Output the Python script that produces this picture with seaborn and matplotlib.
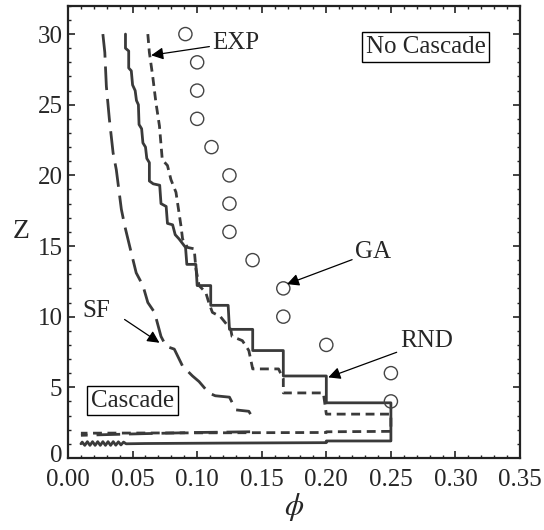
import numpy as np
import matplotlib
matplotlib.use("Agg")
import matplotlib.pyplot as plt
import matplotlib.transforms as mtransforms
import seaborn as sns

# GA points (open circles)
ga_phi = [0.0909, 0.1, 0.1, 0.1, 0.1111, 0.125, 0.125, 0.125, 0.1429, 0.1667, 0.1667, 0.2, 0.25, 0.25]
ga_z = [30, 28, 26, 24, 22, 20, 18, 16, 14, 12, 10, 8, 6, 4]

# RND (solid): no-cascade branch running into the cascade branch at the bottom
rnd_phi = [0.0445, 0.0445, 0.047, 0.047, 0.049, 0.050, 0.052, 0.053, 0.0545, 0.055, 0.057, 0.058,
           0.060, 0.061, 0.063, 0.063, 0.066, 0.071, 0.072, 0.076, 0.077, 0.081, 0.083, 0.086,
           0.091, 0.092, 0.099, 0.100, 0.1105, 0.1105, 0.124, 0.125, 0.143, 0.143, 0.1667, 0.1667,
           0.200, 0.200, 0.250, 0.250, 0.200, 0.200, 0.120, 0.060, 0.045,
           0.043, 0.041, 0.039, 0.037, 0.035, 0.033, 0.031, 0.029, 0.027, 0.025, 0.023, 0.021,
           0.019, 0.017, 0.015, 0.013, 0.011, 0.010]
rnd_z = [30.0, 29.0, 28.8, 27.6, 27.4, 26.4, 26.0, 25.3, 25.0, 23.6, 23.3, 22.3,
         22.0, 21.2, 20.9, 19.6, 19.4, 19.3, 18.0, 17.8, 16.6, 16.5, 15.8, 15.5,
         14.9, 13.7, 13.7, 12.2, 12.2, 10.8, 10.8, 9.1, 9.1, 7.6, 7.6, 5.8,
         5.8, 3.9, 3.9, 1.2, 1.2, 1.08, 1.05, 1.02, 1.0,
         1.12, 0.92, 1.14, 0.90, 1.15, 0.89, 1.15, 0.89, 1.15, 0.89, 1.15, 0.89,
         1.15, 0.89, 1.15, 0.89, 1.12, 1.0]

# EXP (short dash)
exp_phi = [0.0618, 0.063, 0.0656, 0.068, 0.0708, 0.073, 0.077, 0.0797, 0.0836, 0.0875, 0.0887,
           0.0925, 0.0977, 0.099, 0.1015, 0.1067, 0.109, 0.1118, 0.118, 0.126, 0.127, 0.135,
           0.140, 0.143, 0.163, 0.1667, 0.1667, 0.1977, 0.200, 0.250, 0.250, 0.200, 0.200, 0.010]
exp_z = [30.0, 28.7, 27.0, 25.2, 23.5, 21.1, 20.7, 19.7, 18.8, 16.4, 15.5,
         14.9, 14.8, 13.4, 12.2, 11.7, 11.0, 10.3, 10.0, 9.1, 8.6, 8.3,
         7.6, 6.3, 6.3, 5.6, 4.6, 4.6, 3.1, 3.1, 1.88, 1.85, 1.8, 1.75]

# SF (long dash), no-cascade and cascade branches
sf_phi = [0.027, 0.0285, 0.0297, 0.032, 0.0349, 0.0374, 0.0413, 0.044, 0.0477, 0.0528, 0.058,
          0.0618, 0.067, 0.072, 0.076, 0.0823, 0.0887, 0.0964, 0.1015, 0.109, 0.114, 0.125,
          0.130, 0.140, 0.1413]
sf_z = [30.0, 28.7, 26.3, 24.0, 21.6, 20.4, 17.6, 16.4, 15.0, 13.1, 12.2,
        11.0, 10.3, 8.6, 7.9, 7.7, 6.5, 5.8, 5.4, 4.6, 4.4, 4.3,
        3.4, 3.3, 3.1]
sf_casc_phi = [0.141, 0.10, 0.06, 0.03, 0.01]
sf_casc_z = [1.85, 1.8, 1.72, 1.65, 1.6]

sns.set_style("ticks")
plt.rcParams['font.family'] = ['Liberation Serif', 'DejaVu Serif']
plt.rcParams['mathtext.fontset'] = 'stix'

fig = plt.figure(figsize=(5.44, 5.30), dpi=100)
ax = fig.add_axes([0.125, 0.136, 0.831, 0.853])

line_c = '#3a3a3a'
lw = 2.0
sns.lineplot(x=rnd_phi, y=rnd_z, sort=False, estimator=None, ax=ax, color=line_c, lw=lw)
sns.lineplot(x=exp_phi, y=exp_z, sort=False, estimator=None, ax=ax, color=line_c, lw=lw,
             linestyle=(0, (3.2, 2.0)))
sns.lineplot(x=sf_phi, y=sf_z, sort=False, estimator=None, ax=ax, color=line_c, lw=lw,
             linestyle=(0, (8.5, 3.2)))
sns.lineplot(x=sf_casc_phi, y=sf_casc_z, sort=False, estimator=None, ax=ax, color=line_c, lw=lw,
             linestyle=(0, (8.5, 3.2)))
sns.scatterplot(x=ga_phi, y=ga_z, ax=ax, marker='o', s=90, facecolors='none',
                edgecolor='#444444', linewidth=1.0, zorder=3)

ax.set_xlim(0, 0.35)
ax.set_ylim(0, 32)
ax.set_xticks(np.arange(0, 0.351, 0.05))
ax.set_xticklabels([f"{v:.2f}" for v in np.arange(0, 0.351, 0.05)])
ax.set_yticks([0, 5, 10, 15, 20, 25, 30])
ax.set_xticks(np.arange(0, 0.351, 0.01), minor=True)
ax.set_yticks(np.arange(0, 32.1, 1), minor=True)
ax.tick_params(which='both', direction='in', top=True, right=True, labelsize=18, color='#222222')
ax.tick_params(which='major', length=5, width=1.2)
ax.tick_params(which='minor', length=2.5, width=1.0)
ax.tick_params(axis='x', which='major', pad=8)
ax.tick_params(axis='y', which='major', pad=4)
for s in ax.spines.values():
    s.set_linewidth(1.6)
    s.set_color('#222222')

# lift the "0" label on the Z axis a touch so it clears "0.00"
zero_lbl = ax.get_yticklabels()[0]
zero_lbl.set_transform(zero_lbl.get_transform() +
                       mtransforms.ScaledTranslation(0, 3 / 72, fig.dpi_scale_trans))

ax.set_xlabel(r'$\phi$', fontsize=22, labelpad=0)
ax.set_ylabel('Z', fontsize=20, rotation=0, labelpad=12, va='center')

arrow = dict(arrowstyle='-|>', color='black', lw=0.9, mutation_scale=18, shrinkA=0, shrinkB=0)
ax.annotate('EXP', xy=(0.0644, 28.5), xytext=(0.112, 29.4), fontsize=18, va='center', ha='left',
            arrowprops=arrow)
ax.annotate('GA', xy=(0.1695, 12.3), xytext=(0.2225, 14.6), fontsize=18, va='center', ha='left',
            arrowprops=arrow)
ax.annotate('RND', xy=(0.2015, 5.7), xytext=(0.257, 8.25), fontsize=18, va='center', ha='left',
            arrowprops=arrow)
ax.annotate('SF', xy=(0.0708, 8.15), xytext=(0.011, 10.4), fontsize=18, va='center', ha='left')
ax.annotate('', xy=(0.0708, 8.15), xytext=(0.0438, 9.8), arrowprops=arrow)

box = dict(boxstyle='square,pad=0.15', fc='white', ec='black', lw=1.0)
ax.text(0.277, 29.1, 'No Cascade', fontsize=18, ha='center', va='center', bbox=box)
ax.text(0.05, 4.05, 'Cascade', fontsize=18, ha='center', va='center', bbox=box)

fig.savefig('out.png', dpi=100)
